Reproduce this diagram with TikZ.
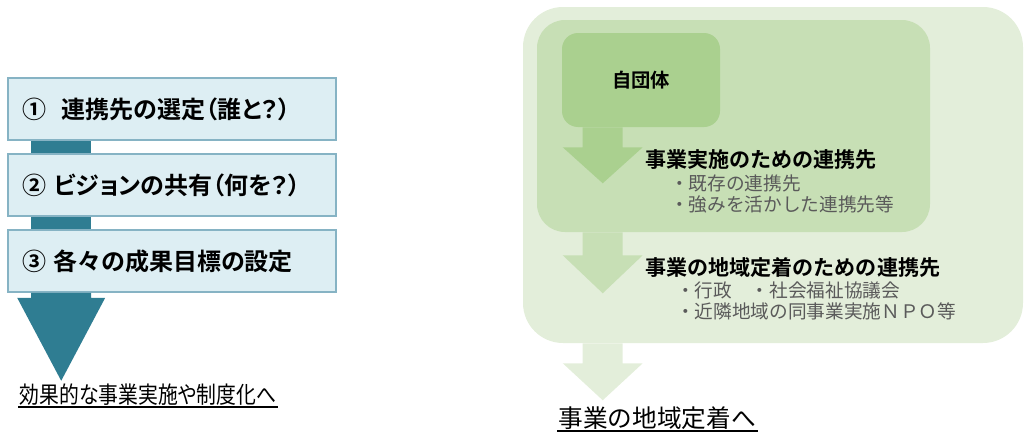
\documentclass[tikz,border=0pt]{standalone}
\usepackage{fontspec}
\setmainfont{Noto Sans CJK JP}[BoldFont={Noto Sans CJK JP Bold}]
\usetikzlibrary{positioning}
\definecolor{boxfill}{HTML}{DDEEF3}
\definecolor{boxline}{HTML}{86B3C4}
\definecolor{stepteal}{HTML}{2F7D92}
\definecolor{gouter}{HTML}{E3EEDA}
\definecolor{gmid}{HTML}{C7DFB5}
\definecolor{gin}{HTML}{AAD08F}
\definecolor{notegray}{HTML}{5A5A5A}
\tikzstyle{stepbox} = [rectangle, draw=boxline, line width=1.2pt, fill=boxfill, minimum width=246pt, minimum height=46.5pt, text width=225pt, inner sep=10.5pt, align=left, font=\fontsize{18pt}{20pt}\selectfont\bfseries\addfontfeature{RawFeature=+palt}]
\tikzstyle{bar} = [fill=stepteal]
\tikzstyle{gbox} = [rectangle, draw=none, inner sep=0]
\tikzstyle{head} = [anchor=west, inner sep=0, font=\fontsize{15.8pt}{18pt}\selectfont\bfseries]
\tikzstyle{note} = [anchor=west, inner sep=0, text=notegray, font=\fontsize{14pt}{16pt}\selectfont]
\tikzstyle{goal} = [anchor=west, inner sep=1pt]

\begin{document}
\begin{tikzpicture}[x=0.75pt, y=-0.75pt, node distance=57pt]
\useasboundingbox (0,0) rectangle (1025,432);

% left: three steps
\node [stepbox] (b1) at (172,109) {\mbox{①\ \ 連携先の選定（誰と？）}};
\node [stepbox, below of=b1] (b2) {\mbox{② ビジョンの共有（何を？）}};
\node [stepbox, below of=b2] (b3) {\mbox{③ 各々の成果目標の設定}};

\fill [bar] ([xshift=18pt]b1.south west) rectangle ([xshift=63pt]b2.north west);
\fill [bar] ([xshift=18pt]b2.south west) rectangle ([xshift=63pt]b3.north west);
\fill [bar] ([xshift=18pt]b3.south west) -- ++(0,5) -- ++(-14,0) -- ++(44,83) -- ++(44,-83) -- ++(-14,0) -- ++(0,-5) -- cycle;

\node [goal, font=\fontsize{17.5pt}{20pt}\selectfont\addfontfeature{RawFeature=+palt,FakeStretch=0.85}] (eff) at (18,395) {効果的な事業実施や制度化へ};
\draw [line width=1.5pt] (eff.south west) -- (eff.south east);

% right: nested partners
\node [gbox, fill=gouter, rounded corners=30pt, minimum width=375pt, minimum height=252pt] (outer) at (773,175) {};
\node [gbox, fill=gmid, rounded corners=21pt, minimum width=294.75pt, minimum height=159pt] (mid) at (733.5,126) {};
\node [gbox, fill=gin, rounded corners=12pt, minimum width=118.5pt, minimum height=70.5pt, font=\fontsize{14.5pt}{17pt}\selectfont\bfseries] (self) at (641,80) {自団体};

\fill [gin] ([xshift=15.75pt]self.south west) -- ++(0,20) -- ++(-20,0) -- ++(40,36) -- ++(40,-36) -- ++(-20,0) -- ++(0,-20) -- cycle;
\fill [gmid] ([xshift=34.5pt]mid.south west) -- ++(0,23) -- ++(-20,0) -- ++(40,38) -- ++(40,-38) -- ++(-20,0) -- ++(0,-23) -- cycle;
\fill [gouter] ([xshift=45pt]outer.south west) -- ++(0,20) -- ++(-20,0) -- ++(40,37) -- ++(40,-37) -- ++(-20,0) -- ++(0,-20) -- cycle;

\node [head] (h1) at (645,160) {事業実施のための連携先};
\node [note] (n1) at (670,183) {・既存の連携先};
\node [note] (n2) at (670,204) {・強みを活かした連携先等};
\node [head] (h2) at (645,268) {事業の地域定着のための連携先};
\node [note] (n3) at (676,290) {・行政　・社会福祉協議会};
\node [note] (n4) at (676,311) {・近隣地域の同事業実施ＮＰＯ等};

\node [goal, font=\fontsize{18.5pt}{20pt}\selectfont] (fix) at (557,418) {事業の地域定着へ};
\draw [line width=1pt] (fix.south west) -- (fix.south east);

\end{tikzpicture}
\end{document}
